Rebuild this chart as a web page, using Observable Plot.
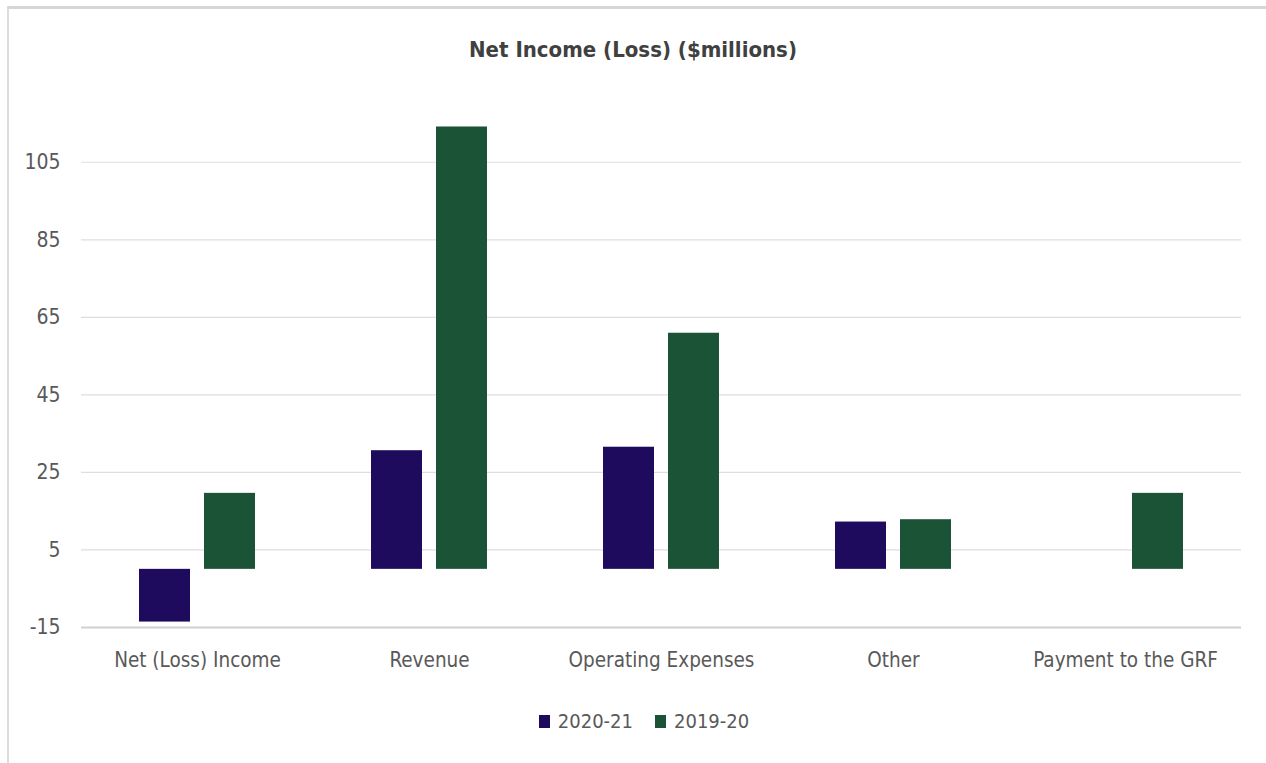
<!DOCTYPE html>
<html>
<head>
<meta charset="utf-8">
<script src="https://cdn.jsdelivr.net/npm/d3@7"></script>
<script src="https://cdn.jsdelivr.net/npm/@observablehq/plot@0.6"></script>
<style>
  html, body { margin: 0; padding: 0; background: #fff; }
  #wrap { position: relative; width: 1266px; height: 763px; overflow: hidden; background: #fff; }
  #frame { position: absolute; left: 7px; top: 6px; width: 1270px; height: 770px;
           border-top: 3px solid #d6d6d6; border-left: 2px solid #dcdcdc; box-sizing: border-box; }
  #title { position: absolute; top: 37px; left: 0; width: 1266px; text-align: center;
           font-family: "DejaVu Sans Condensed", sans-serif;
           font-weight: bold; font-size: 22px; color: #404040; }
  #chart { position: absolute; left: 0; top: 0; }
  #legend { position: absolute; top: 709px; left: 0; width: 1266px; display: flex; justify-content: center;
            gap: 22px; padding-left: 22px; box-sizing: border-box;
            font-family: "DejaVu Sans Condensed", sans-serif;
            font-size: 20px; color: #595959; }
  .item { display: flex; align-items: center; gap: 8px; }
  .sw { width: 11px; height: 13px; display: inline-block; }
</style>
</head>
<body>
<div id="wrap">
  <div id="frame"></div>
  <div id="title">Net Income (Loss) ($millions)</div>
  <div id="chart"></div>
  <div id="legend"></div>
</div>
<script>
const categories = ["Net (Loss) Income", "Revenue", "Operating Expenses", "Other", "Payment to the GRF"];
const series = ["2020-21", "2019-20"];
const values2020_21 = [-13.6, 30.6, 31.5, 12.2, null];
const values2019_20 = [19.6, 114.1, 60.9, 12.8, 19.6];
const yTicks = [-15, 5, 25, 45, 65, 85, 105];
const colors = ["#1E0B5E", "#1A5336"];

const FONT = '"DejaVu Sans Condensed", sans-serif';

const data = [];
categories.forEach((c, i) => {
  if (values2020_21[i] != null) data.push({category: c, series: series[0], value: values2020_21[i]});
  if (values2019_20[i] != null) data.push({category: c, series: series[1], value: values2019_20[i]});
});

const chart = Plot.plot({
  width: 1266,
  height: 700,
  marginLeft: 81,
  marginRight: 25,
  marginTop: 123,
  marginBottom: 73,
  style: {fontFamily: FONT, fontSize: "20px", color: "#595959", background: "transparent"},
  fx: {domain: categories, padding: 0, label: null, axis: null},
  x: {domain: series, paddingInner: 0.212, paddingOuter: 0.864, axis: null},
  y: {domain: [-15, 115], label: null, axis: null},
  color: {domain: series, range: colors},
  marks: [
    Plot.gridY(yTicks.filter(d => d !== -15), {stroke: "#dedede", strokeOpacity: 1, strokeWidth: 1.2}),
    Plot.ruleY([-15], {stroke: "#d0d0d0", strokeWidth: 2}),
    Plot.axisY(yTicks, {tickSize: 0, tickPadding: 21, fontSize: 21, fill: "#595959", label: null, tickFormat: d => String(d)}),
    Plot.axisFx({anchor: "bottom", tickSize: 0, tickPadding: 25, fontSize: 20.5, fill: "#595959", label: null}),
    Plot.barY(data, {fx: "category", x: "series", y: "value", fill: "series"})
  ]
});
document.getElementById("chart").appendChild(chart);

const legend = document.getElementById("legend");
series.forEach((s, i) => {
  const item = document.createElement("div");
  item.className = "item";
  const sw = document.createElement("span");
  sw.className = "sw";
  sw.style.background = colors[i];
  const t = document.createElement("span");
  t.textContent = s;
  item.appendChild(sw);
  item.appendChild(t);
  legend.appendChild(item);
});
</script>
</body>
</html>
